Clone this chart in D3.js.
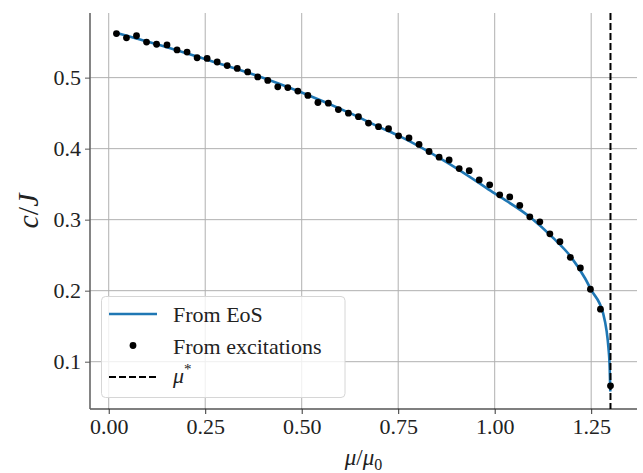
<!DOCTYPE html>
<html>
<head>
<meta charset="utf-8">
<script src="https://cdn.jsdelivr.net/npm/d3@7"></script>
<style>
    body { margin: 0; background: white; }
    text { font-family: "Liberation Serif", "DejaVu Serif", serif; fill: #222; }
</style>
</head>
<body>
<script>
// speed of sound from the equation of state (curve)
let muEos = [0.015, 0.125, 0.25, 0.375, 0.5, 0.625, 0.703, 0.752, 0.875, 1.0,
    1.093, 1.15, 1.197, 1.234, 1.25, 1.281, 1.290, 1.2945, 1.298, 1.2995];
let cEos = [0.564, 0.547, 0.526, 0.5045, 0.479, 0.450, 0.430, 0.418, 0.381, 0.337,
    0.303, 0.275, 0.248, 0.2175, 0.201, 0.168, 0.143, 0.121, 0.090, 0.058];

// speed of sound from excitations
let muExc = [0.020, 0.046, 0.072, 0.098, 0.124, 0.151, 0.177, 0.203, 0.229, 0.255,
    0.281, 0.307, 0.333, 0.360, 0.386, 0.412, 0.438, 0.464, 0.490, 0.516,
    0.542, 0.569, 0.595, 0.621, 0.647, 0.673, 0.699, 0.725, 0.751, 0.778,
    0.804, 0.830, 0.856, 0.882, 0.908, 0.934, 0.960, 0.987, 1.013, 1.039,
    1.065, 1.091, 1.117, 1.143, 1.169, 1.196, 1.222, 1.248, 1.274, 1.300];
let cExc = [0.562, 0.556, 0.559, 0.550, 0.547, 0.546, 0.539, 0.536, 0.528, 0.527,
    0.522, 0.517, 0.513, 0.508, 0.501, 0.496, 0.487, 0.486, 0.481, 0.475,
    0.465, 0.464, 0.455, 0.450, 0.445, 0.436, 0.431, 0.428, 0.418, 0.415,
    0.406, 0.396, 0.388, 0.384, 0.372, 0.369, 0.356, 0.349, 0.335, 0.332,
    0.320, 0.304, 0.297, 0.280, 0.269, 0.247, 0.232, 0.202, 0.174, 0.066];

let muStar = 1.30;

let xTicks = [0, 0.25, 0.5, 0.75, 1.0, 1.25];
let yTicks = [0.1, 0.2, 0.3, 0.4, 0.5];

let legendLabels = ["From EoS", "From excitations", "\u03bc*"];

let svgWidth = 643,
    svgHeight = 473,
    plot = { left: 90, right: 637, top: 13, bottom: 409 };

let svg = d3.select("body").append("svg")
    .attr("width", svgWidth)
    .attr("height", svgHeight);

let x = d3.scaleLinear().domain([-0.0485, 1.3687]).range([plot.left, plot.right]);
let y = d3.scaleLinear().domain([0.0334, 0.591]).range([plot.bottom, plot.top]);

function drawGrid() {
    svg.append("g").selectAll("line").data(xTicks).enter().append("line")
        .attr("x1", d => x(d)).attr("x2", d => x(d))
        .attr("y1", plot.top).attr("y2", plot.bottom)
        .attr("stroke", "#b0b0b0").attr("stroke-width", 1);
    svg.append("g").selectAll("line").data(yTicks).enter().append("line")
        .attr("x1", plot.left).attr("x2", plot.right)
        .attr("y1", d => y(d)).attr("y2", d => y(d))
        .attr("stroke", "#b0b0b0").attr("stroke-width", 1);
}

function drawAxes() {
    let xAxis = d3.axisBottom(x).tickValues(xTicks).tickFormat(d3.format(".2f")).tickSize(5).tickPadding(4);
    let yAxis = d3.axisLeft(y).tickValues(yTicks).tickFormat(d3.format(".1f")).tickSize(5).tickPadding(4);

    let gx = svg.append("g")
        .attr("transform", "translate(0," + plot.bottom + ")")
        .call(xAxis);
    gx.select(".domain").attr("d", "M" + plot.left + ",0H" + plot.right).attr("stroke", "#000").attr("stroke-width", 1.2);
    gx.selectAll("text").attr("font-size", 22).attr("font-family", null).attr("fill", "#222");
    gx.selectAll(".tick line").attr("stroke", "#333");

    let gy = svg.append("g")
        .attr("transform", "translate(" + plot.left + ",0)")
        .call(yAxis);
    gy.select(".domain").attr("d", "M0," + plot.top + "V" + plot.bottom).attr("stroke", "#666").attr("stroke-width", 1.6);
    gy.selectAll("text").attr("font-size", 22).attr("font-family", null).attr("fill", "#222");
    gy.selectAll(".tick line").attr("stroke", "#555");

    // axis labels
    let xl = svg.append("text")
        .attr("x", (plot.left + plot.right) / 2)
        .attr("y", 465)
        .attr("text-anchor", "middle")
        .attr("font-size", 23);
    xl.append("tspan").attr("font-style", "italic").text("\u03bc");
    xl.append("tspan").text("/");
    xl.append("tspan").attr("font-style", "italic").text("\u03bc");
    xl.append("tspan").attr("font-size", 16).attr("dy", 5).text("0");

    let yl = svg.append("text")
        .attr("transform", "translate(38," + ((plot.top + plot.bottom) / 2) + ") rotate(-90)")
        .attr("text-anchor", "middle")
        .attr("font-size", 30);
    yl.append("tspan").attr("font-style", "italic").text("c");
    yl.append("tspan").text("/");
    yl.append("tspan").attr("font-style", "italic").text("J");
}

function drawSeries() {
    let eos = muEos.map((m, i) => ({ x: m, y: cEos[i] }));
    let exc = muExc.map((m, i) => ({ x: m, y: cExc[i] }));

    let line = d3.line()
        .x(d => x(d.x))
        .y(d => y(d.y))
        .curve(d3.curveMonotoneX);

    svg.append("path")
        .datum(eos)
        .attr("d", line)
        .attr("fill", "none")
        .attr("stroke", "#1f77b4")
        .attr("stroke-width", 2.6);

    svg.append("g").selectAll("circle").data(exc).enter().append("circle")
        .attr("cx", d => x(d.x))
        .attr("cy", d => y(d.y))
        .attr("r", 3.4)
        .attr("fill", "#000");

    svg.append("line")
        .attr("x1", x(muStar)).attr("x2", x(muStar))
        .attr("y1", plot.top).attr("y2", plot.bottom)
        .attr("stroke", "#000")
        .attr("stroke-width", 2)
        .attr("stroke-dasharray", "7,3");
}

function drawLegend() {
    let g = svg.append("g");
    g.append("rect")
        .attr("x", 101.5).attr("y", 296.5)
        .attr("width", 243.5).attr("height", 101)
        .attr("rx", 4)
        .attr("fill", "white").attr("fill-opacity", 0.8)
        .attr("stroke", "#d6d6d6").attr("stroke-width", 1);

    let rows = [314, 345.5, 377];
    g.append("line")
        .attr("x1", 109).attr("x2", 157).attr("y1", rows[0]).attr("y2", rows[0])
        .attr("stroke", "#1f77b4").attr("stroke-width", 2.6);
    g.append("circle")
        .attr("cx", 133).attr("cy", rows[1]).attr("r", 3.4).attr("fill", "#000");
    g.append("line")
        .attr("x1", 109).attr("x2", 157).attr("y1", rows[2]).attr("y2", rows[2])
        .attr("stroke", "#000").attr("stroke-width", 2).attr("stroke-dasharray", "7,3");

    g.append("text").attr("x", 173).attr("y", rows[0] + 8).attr("font-size", 22).text(legendLabels[0]);
    g.append("text").attr("x", 173).attr("y", rows[1] + 8).attr("font-size", 22).text(legendLabels[1]);
    let t = g.append("text").attr("x", 173).attr("y", rows[2] + 6).attr("font-size", 22);
    t.append("tspan").attr("font-style", "italic").text(legendLabels[2].charAt(0));
    t.append("tspan").attr("font-size", 15).attr("dy", -9).text("*");
}

drawGrid();
drawSeries();
drawAxes();
drawLegend();
</script>
</body>
</html>
